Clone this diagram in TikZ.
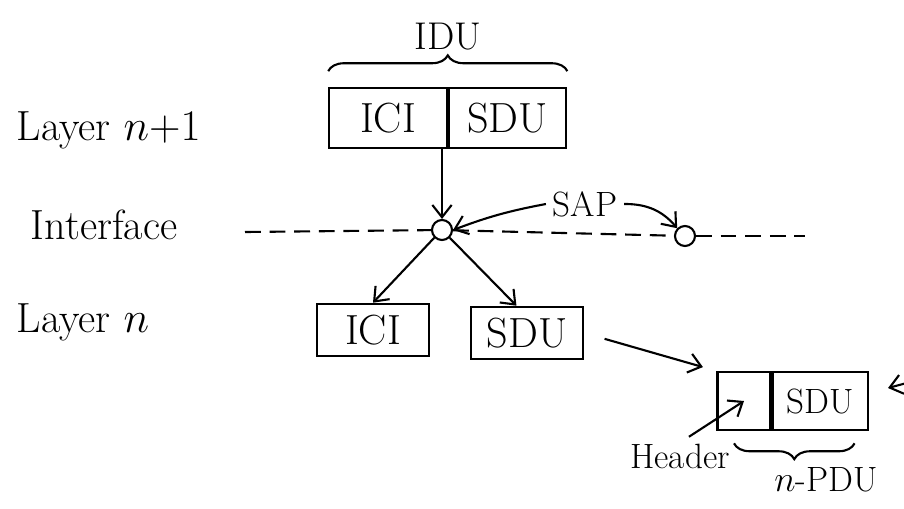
\documentclass[tikz,border=0pt]{standalone}
\usepackage{tikz}
\usetikzlibrary{arrows.meta,positioning,calc,decorations.pathreplacing}

\begin{document}
\begin{tikzpicture}[
    x=0.02cm, y=-0.02cm,
    line width=1.2pt,
    cell/.style={rectangle, draw, minimum width=2.35cm, minimum height=1.2cm, inner sep=0pt, font=\fontsize{24}{28}\selectfont},
    small cell/.style={cell, minimum width=2.25cm, minimum height=1.05cm},
    layer/.style={font=\fontsize{24}{28}\selectfont, anchor=west},
    tag/.style={font=\fontsize{20}{24}\selectfont},
    sap/.style={circle, draw, minimum size=0.4cm, inner sep=0pt},
    arrow/.style={-{Straight Barb[length=7pt,width=11pt]}},
    iface/.style={dash pattern=on 9pt off 5pt},
    brace/.style={decorate, decoration={brace, amplitude=9pt}}
]
    \useasboundingbox (0,0) rectangle (904,508);

    % layer names on the left
    \node[layer] (upper) at (10,130) {Layer $n{+}1$};
    \node[layer] (iflbl) at (24,225) {Interface};
    \node[layer] (lower) at (10,322) {Layer $n$};

    % layer n+1: IDU = ICI + SDU
    \node[cell] (ici) at (388,118) {ICI};
    \node[cell, right=0pt of ici] (sdu) {SDU};
    \draw[brace] ([yshift=9pt]ici.north west) -- ([yshift=9pt]sdu.north east)
        node[midway, above=8pt, font=\fontsize{22}{26}\selectfont] (idu) {IDU};

    % interface with the two access points
    \node[sap] (sapl) at (442,230) {};
    \node[sap] (sapr) at (685,236) {};
    \coordinate (ifl) at (245,232);
    \coordinate (ifr) at (805,236);
    \draw[iface] (ifl) -- (sapl);
    \draw[iface] (sapl) -- (sapr);
    \draw[iface] (sapr) -- (ifr);
    \node[font=\fontsize{20}{24}\selectfont] (saplbl) at (585,204) {SAP};
    \draw[arrow] (saplbl.west) to[bend right=5] (sapl.east);
    \draw[arrow] (saplbl.east) to[bend left=25] (sapr.north west);

    \draw[arrow] (sapl.north |- ici.south) -- (sapl.north);

    % layer n
    \node[small cell] (lici) at (373,330) {ICI};
    \node[small cell] (lsdu) at (527,333) {SDU};
    \draw[arrow] (sapl.south west) -- (lici.north);
    \draw[arrow] (sapl.south east) -- ([xshift=-6pt]lsdu.north);

    % n-PDU = header + SDU
    \node[cell, minimum width=1.06cm, minimum height=1.16cm] (hdr) at (744,401) {};
    \node[cell, minimum width=1.9cm, minimum height=1.16cm, right=0pt of hdr,
        font=\fontsize{20}{24}\selectfont] (psdu) {SDU};
    \draw[arrow, shorten <=12pt, shorten >=8pt] (lsdu.east) -- (hdr.north west);

    \node[tag] (hlbl) at (680,456) {Header};
    \draw[arrow] (hlbl.65) -- (hdr.center);
    \draw[brace] ([xshift=-8pt,yshift=-7pt]psdu.south east) -- ([xshift=10pt,yshift=-7pt]hdr.south west)
        node[midway, below=10pt, xshift=18pt, tag] (pdu) {$n$-PDU};

    % next step, off the edge
    \coordinate (nxt) at (918,380);
    \coordinate (nxtend) at (888,388);
    \draw[arrow] (nxt) -- (nxtend);
\end{tikzpicture}
\end{document}
